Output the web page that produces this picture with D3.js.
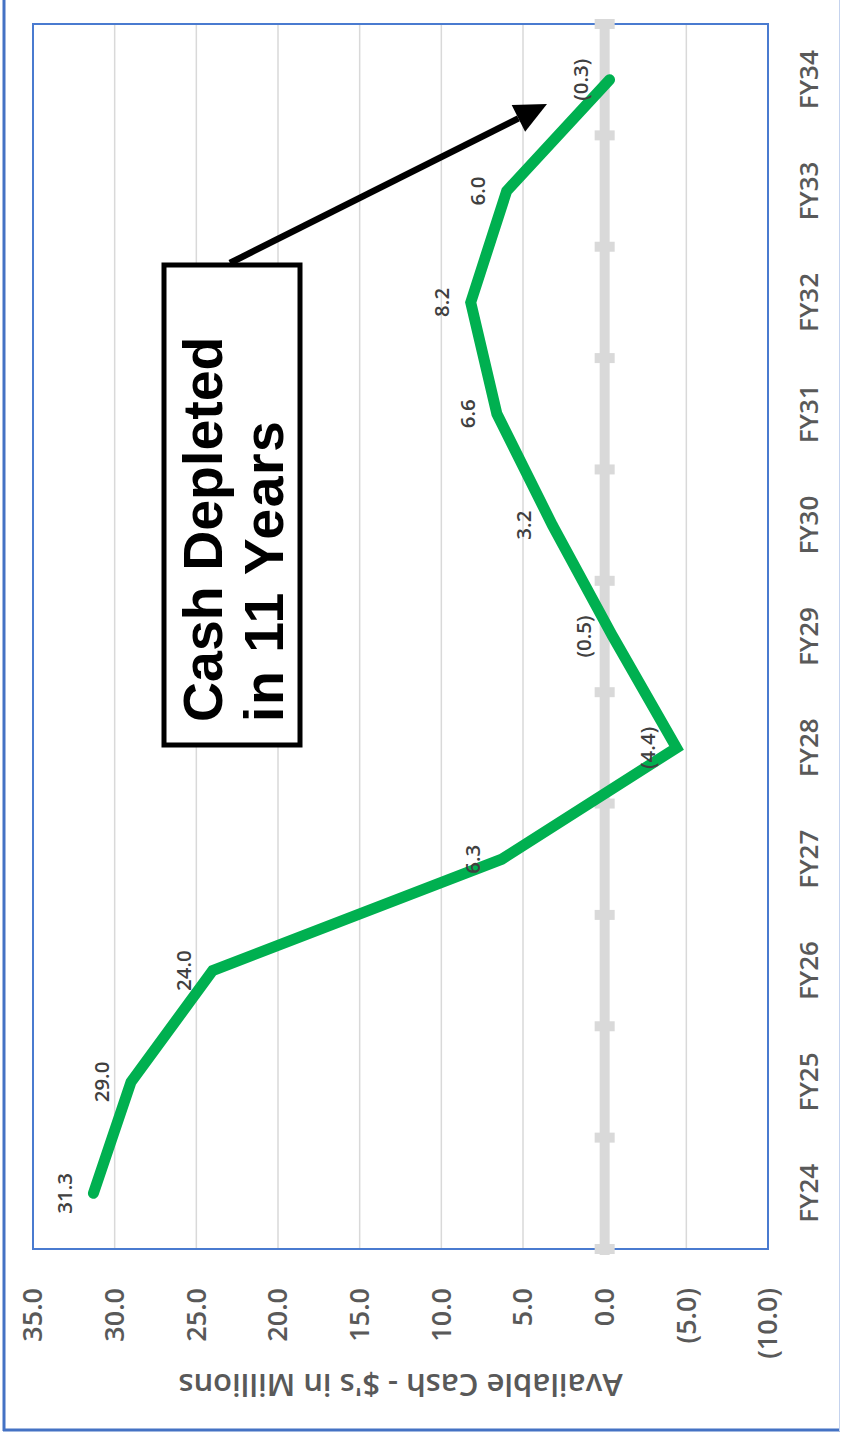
<!DOCTYPE html>
<html>
<head>
<meta charset="utf-8">
<script src="https://cdn.jsdelivr.net/npm/d3@7"></script>
<style>
  html, body { margin: 0; padding: 0; background: #fff; }
  svg { display: block; }
</style>
</head>
<body>
<svg id="chart" width="841" height="1441"></svg>
<script>
const categories = ["FY24", "FY25", "FY26", "FY27", "FY28", "FY29", "FY30", "FY31", "FY32", "FY33", "FY34"];
const cashValues = [31.3, 29.0, 24.0, 6.3, -4.4, -0.5, 3.2, 6.6, 8.2, 6.0, -0.3];
const valueTicks = [35, 30, 25, 20, 15, 10, 5, 0, -5, -10];
const axisTitle = "Available Cash - $'s in Millions";
const noteLines = ["Cash Depleted", "in 11 Years"];

const fmt = v => v < 0 ? "(" + Math.abs(v).toFixed(1) + ")" : v.toFixed(1);

const svg = d3.select("#chart");
const plot = { left: 33, right: 768, top: 24, bottom: 1249 };

// Chart is drawn rotated 90deg counter-clockwise: value axis horizontal, categories vertical.
const x = d3.scaleLinear().domain([35, -10]).range([plot.left, plot.right]);
const y = d3.scaleBand().domain(categories).range([plot.bottom, plot.top]);
const cy = c => y(c) + y.bandwidth() / 2;

// outer frame
svg.append("line").attr("x1", 4).attr("x2", 4).attr("y1", 0).attr("y2", 1431)
  .attr("stroke", "#4472c4").attr("stroke-width", 3);
svg.append("line").attr("x1", 3).attr("x2", 840).attr("y1", 1430).attr("y2", 1430)
  .attr("stroke", "#4472c4").attr("stroke-width", 3);
svg.append("line").attr("x1", 839.5).attr("x2", 839.5).attr("y1", 0).attr("y2", 1431)
  .attr("stroke", "#c5d3ee").attr("stroke-width", 1);

// gridlines
svg.append("g").selectAll("line").data(valueTicks.filter(v => v !== 0 && v !== 35 && v !== -10)).join("line")
  .attr("x1", d => x(d)).attr("x2", d => x(d))
  .attr("y1", plot.top).attr("y2", plot.bottom)
  .attr("stroke", "#d9d9d9").attr("stroke-width", 1.5);

// plot area border
svg.append("rect").attr("x", plot.left).attr("y", plot.top)
  .attr("width", plot.right - plot.left).attr("height", plot.bottom - plot.top)
  .attr("fill", "none").attr("stroke", "#4a7bd0").attr("stroke-width", 2);

// zero (category) axis
const boundaries = categories.map(c => y(c) + y.bandwidth()).concat([y(categories[categories.length - 1])]);
svg.append("line").attr("x1", x(0)).attr("x2", x(0))
  .attr("y1", plot.top - 4).attr("y2", plot.bottom + 6)
  .attr("stroke", "#d9d9d9").attr("stroke-width", 10);
svg.append("g").selectAll("rect").data(boundaries).join("rect")
  .attr("x", x(0) - 10).attr("y", d => d - 5)
  .attr("width", 20).attr("height", 10)
  .attr("fill", "#d9d9d9");

// data line
const line = d3.line().x(d => x(d.v)).y(d => cy(d.c));
const pts = categories.map((c, i) => ({ c, v: cashValues[i] }));
svg.append("path").datum(pts).attr("d", line)
  .attr("fill", "none").attr("stroke", "#00b050").attr("stroke-width", 11)
  .attr("stroke-linecap", "round").attr("stroke-linejoin", "miter");

// data labels
svg.append("g").selectAll("text").data(pts).join("text")
  .attr("transform", d => `translate(${x(d.v)},${cy(d.c)}) rotate(-90)`)
  .attr("y", -29).attr("dy", "0.35em")
  .attr("text-anchor", "middle")
  .attr("font-family", "Open Sans, sans-serif").attr("font-size", 20.5).attr("font-weight", 600)
  .attr("fill", "#404040")
  .text(d => fmt(d.v));

// category labels
svg.append("g").selectAll("text").data(categories).join("text")
  .attr("transform", d => `translate(818,${cy(d)}) rotate(-90)`)
  .attr("text-anchor", "middle")
  .attr("font-family", "Open Sans, sans-serif").attr("font-size", 26).attr("font-weight", 600)
  .attr("fill", "#595959")
  .text(d => d);

// value tick labels
svg.append("g").selectAll("text").data(valueTicks).join("text")
  .attr("transform", d => `translate(${x(d)},1288) rotate(-90)`)
  .attr("text-anchor", "end").attr("dy", "0.35em")
  .attr("font-family", "Open Sans, sans-serif").attr("font-size", 27).attr("font-weight", 600)
  .attr("fill", "#595959")
  .text(d => fmt(d));

// axis title
svg.append("text")
  .attr("transform", `translate(${(plot.left + plot.right) / 2},1385) rotate(180)`)
  .attr("text-anchor", "middle").attr("dy", "0.35em")
  .attr("font-family", "Open Sans, sans-serif").attr("font-size", 31).attr("font-weight", 600)
  .attr("fill", "#595959")
  .text(axisTitle);

// annotation arrow
const ax1 = 230, ay1 = 263, ax2 = 547, ay2 = 104;
const ang = Math.atan2(ay2 - ay1, ax2 - ax1);
const headL = 32, headW = 15;
const bx = ax2 - headL * Math.cos(ang), by = ay2 - headL * Math.sin(ang);
svg.append("line").attr("x1", ax1).attr("y1", ay1).attr("x2", bx).attr("y2", by)
  .attr("stroke", "#000").attr("stroke-width", 6.5);
svg.append("path")
  .attr("d", `M${ax2},${ay2} L${bx - headW * Math.sin(ang)},${by + headW * Math.cos(ang)} L${bx + headW * Math.sin(ang)},${by - headW * Math.cos(ang)} Z`)
  .attr("fill", "#000");

// annotation box
svg.append("rect").attr("x", 164).attr("y", 265).attr("width", 136).attr("height", 480)
  .attr("fill", "#fff").attr("stroke", "#000").attr("stroke-width", 5);
svg.append("g").selectAll("text").data(noteLines).join("text")
  .attr("transform", (d, i) => `translate(${222 + i * 61},722) rotate(-90)`)
  .attr("font-family", "Liberation Sans, Arial, sans-serif").attr("font-weight", "bold")
  .attr("font-size", 55.5).attr("fill", "#000")
  .attr("letter-spacing", (d, i) => i === 1 ? 1.5 : 0)
  .text(d => d);
</script>
</body>
</html>
